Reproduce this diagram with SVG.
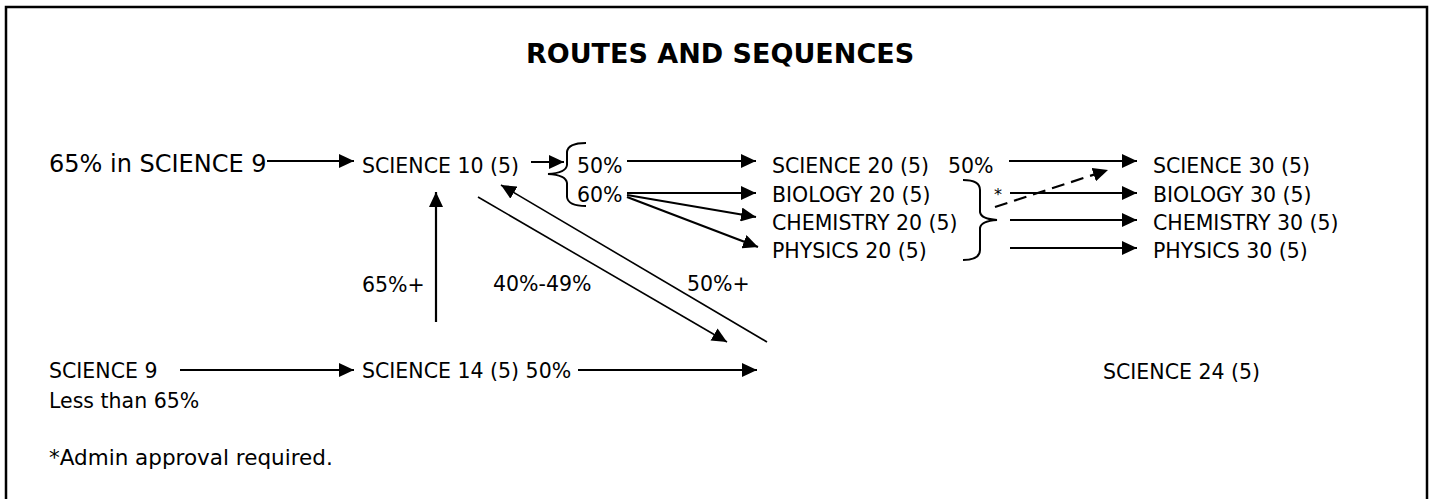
<svg xmlns="http://www.w3.org/2000/svg" width="1433" height="499" viewBox="0 0 1433 499">
  <defs>
    <marker id="ah" markerUnits="userSpaceOnUse" markerWidth="16" markerHeight="14" refX="15" refY="7" orient="auto">
      <path d="M0,0 L15,7 L0,14 Z" fill="#000"/>
    </marker>
    <style>
      text { font-family: "DejaVu Sans", "Liberation Sans", sans-serif; font-size: 20.5px; fill: #000; }
      .big { font-size: 24px; }
      .title { font-size: 27px; font-weight: bold; }
      .note { font-size: 21.5px; }
      .c { stroke: #000; stroke-width: 2.2; fill: none; }
      .a { marker-end: url(#ah); }
      .thin { stroke-width: 1.6; }
      .brace { stroke: #000; stroke-width: 2; fill: none; }
      .star { font-size: 16px; }
    </style>
  </defs>
  <rect x="0" y="0" width="1433" height="499" fill="#fff"/>
  <rect x="6" y="7" width="1421" height="510" fill="none" stroke="#000" stroke-width="2.5"/>

  <g id="title"><text class="title" x="720" y="63" text-anchor="middle">ROUTES AND SEQUENCES</text></g>

  <g id="n-sci9-65"><text class="big" x="49" y="172">65% in SCIENCE 9</text></g>
  <g id="n-sci10"><text x="362" y="173">SCIENCE 10 (5)</text></g>
  <g id="n-50a"><text x="577" y="173">50%</text></g>
  <g id="n-60"><text x="577" y="202">60%</text></g>
  <g id="n-sci20"><text x="772" y="173">SCIENCE 20 (5)</text><text x="948" y="173">50%</text></g>
  <g id="n-bio20"><text x="772" y="202">BIOLOGY 20 (5)</text></g>
  <g id="n-chem20"><text x="772" y="230">CHEMISTRY 20 (5)</text></g>
  <g id="n-phys20"><text x="772" y="258">PHYSICS 20 (5)</text></g>
  <g id="n-sci30"><text x="1153" y="173">SCIENCE 30 (5)</text></g>
  <g id="n-bio30"><text x="1153" y="202">BIOLOGY 30 (5)</text></g>
  <g id="n-chem30"><text x="1153" y="230">CHEMISTRY 30 (5)</text></g>
  <g id="n-phys30"><text x="1153" y="258">PHYSICS 30 (5)</text></g>
  <g id="n-sci9-low"><text x="49" y="378">SCIENCE 9</text><text x="49" y="408">Less than 65%</text></g>
  <g id="n-sci14"><text x="362" y="378">SCIENCE 14 (5) 50%</text></g>
  <g id="n-sci24"><text x="1103" y="379">SCIENCE 24 (5)</text></g>
  <g id="note"><text class="note" x="49" y="465">*Admin approval required.</text></g>

  <g id="connectors">
    <line class="c a" x1="267" y1="161" x2="354" y2="161"/>
    <line class="c a" x1="531" y1="162" x2="564" y2="162"/>
    <path class="brace" d="M586,143 Q568,143 567,152 L567,165 Q566,173 548,174 Q566,175 567,183 L567,197 Q568,206 586,206"/>
    <line class="c a" x1="627" y1="161" x2="756" y2="161"/>
    <line class="c a" x1="627" y1="193" x2="756" y2="193"/>
    <line class="c a" x1="627" y1="195" x2="756" y2="217"/>
    <line class="c a" x1="627" y1="197" x2="758" y2="247"/>
    <path class="brace" d="M963,180 Q980,180 980,190 L980,212 Q981,219 997,220 Q981,221 980,228 L980,250 Q980,260 963,260"/>
    <text class="star" x="994" y="200">*</text>
    <line class="c a" x1="995" y1="207" x2="1108" y2="170" stroke-dasharray="13,7"/>
    <line class="c a" x1="1009" y1="161" x2="1137" y2="161"/>
    <line class="c a" x1="1010" y1="193" x2="1137" y2="193"/>
    <line class="c a" x1="1010" y1="220" x2="1137" y2="220"/>
    <line class="c a" x1="1010" y1="248" x2="1137" y2="248"/>
    <line class="c a" x1="436" y1="322" x2="436" y2="192"/>
    <line class="c thin a" x1="478" y1="197" x2="727" y2="342"/>
    <line class="c thin a" x1="767" y1="342" x2="501" y2="185"/>
    <line class="c a" x1="180" y1="370" x2="354" y2="370"/>
    <line class="c a" x1="578" y1="370" x2="757" y2="370"/>
    <text x="362" y="292">65%+</text>
    <text x="493" y="291">40%-49%</text>
    <text x="687" y="291">50%+</text>
  </g>
</svg>
